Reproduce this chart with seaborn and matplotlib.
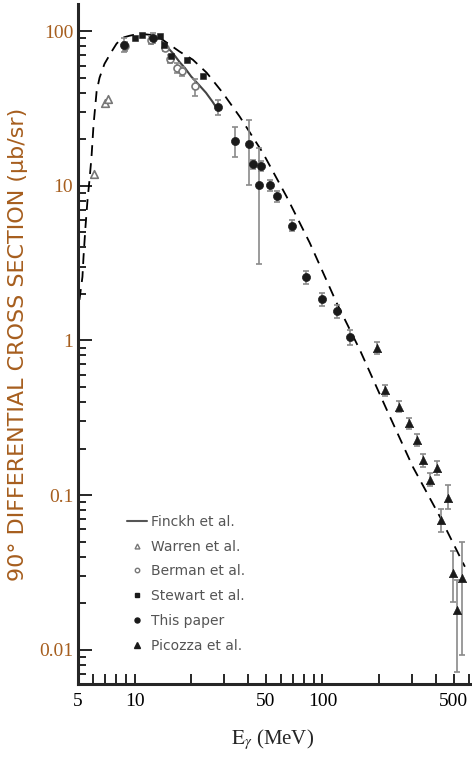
import numpy as np
import pandas as pd
import matplotlib
matplotlib.use("Agg")
import matplotlib.pyplot as plt
import matplotlib.ticker as ticker
from matplotlib.lines import Line2D
import seaborn as sns

# theory curve (dashed)
theory_E = [5.09, 5.28, 5.35, 5.48, 5.62, 5.76, 5.90, 6.05, 6.28, 6.51, 6.92, 7.54, 8.02,
            8.63, 9.41, 10.6, 12.0, 13.6, 15.4, 17.4, 20.4, 24.2, 29.4, 36.3, 48.1, 64.5,
            85.5, 119, 158, 220, 303, 422, 573]
theory_xs = [1.83, 2.58, 3.48, 5.44, 8.13, 11.0, 15.4, 24.9, 40.7, 50.0, 61.6, 73.7, 83.1,
             90.8, 93.5, 96.4, 94.9, 90.8, 81.8, 73.7, 65.5, 53.9, 40.1, 28.0, 16.4, 8.50,
             4.29, 1.75, 0.871, 0.356, 0.152, 0.0724, 0.0344]

# Finckh et al. (solid)
finckh_E = [14.0, 16.0, 17.4, 18.5, 20.0, 22.0, 24.0, 26.0, 27.5]
finckh_xs = [86, 72, 63, 58, 51, 45, 40, 35, 31.5]

# Warren et al. (open triangles)
warren_E = [6.1, 7.0, 7.2]
warren_xs = [12.0, 34.5, 36.5]

# Berman et al. (open circles)
berman_E = [8.9, 12.2, 14.5, 15.5, 16.8, 17.8, 20.9]
berman_xs = [80, 88, 78, 66, 58, 55, 44]
berman_lo = [5, 5, 4, 4, 4, 4, 6]
berman_hi = [5, 5, 4, 4, 4, 4, 5.4]

# Stewart et al. (filled squares)
stewart_E = [10.1, 10.9, 13.6, 14.4, 15.7, 18.9, 23.1]
stewart_xs = [91, 95, 93.5, 82, 69, 65.5, 51]

# This paper (filled circles)
paper_E = [8.84, 12.6, 27.8, 34.1, 40.6, 42.7, 47.3, 45.9, 52.4, 57.3, 69.2, 82.2, 100, 120, 140]
paper_xs = [82, 90, 32.4, 19.4, 18.6, 13.8, 13.4, 10.2, 10.1, 8.54, 5.52, 2.57, 1.86, 1.54, 1.05]
paper_lo = [9, 6, 3.6, 4.0, 8.4, 1.0, 1.0, 7.1, 0.8, 0.7, 0.45, 0.25, 0.18, 0.15, 0.12]
paper_hi = [9, 8, 3.6, 4.7, 8.2, 1.0, 1.0, 7.4, 0.8, 0.7, 0.45, 0.25, 0.18, 0.15, 0.12]

# Picozza et al. (filled triangles)
picozza_E = [194, 215, 255, 289, 319, 344, 373, 405, 430, 467, 497, 522, 550]
picozza_xs = [0.90, 0.475, 0.374, 0.292, 0.228, 0.169, 0.126, 0.150, 0.069, 0.0957, 0.0313, 0.0181, 0.0290]
picozza_lo = [0.08, 0.04, 0.03, 0.025, 0.02, 0.016, 0.012, 0.015, 0.011, 0.015, 0.011, 0.0109, 0.0197]
picozza_hi = [0.08, 0.04, 0.03, 0.025, 0.02, 0.016, 0.012, 0.015, 0.012, 0.021, 0.012, 0.0102, 0.021]

x_ticks = [5, 10, 50, 100, 500]
y_ticks = [0.01, 0.1, 1, 10, 100]
y_tick_labels = ["0.01", "0.1", "1", "10", "100"]

sns.set_style("ticks")
plt.rcParams['font.family'] = ['DejaVu Sans']
plt.rcParams['mathtext.fontset'] = 'stix'

lab_col = '#a65e1e'
pt_col = '#1a1a1a'
bar_col = '#8a8a8a'

fig = plt.figure(figsize=(4.72, 7.6), dpi=100)
ax = fig.add_axes([78 / 472, 76 / 760, 392 / 472, 680 / 760])

theory = pd.DataFrame({'E': theory_E, 'xs': theory_xs})
sns.lineplot(data=theory, x='E', y='xs', ax=ax, color='black', lw=1.3,
             dashes=False, linestyle=(0, (6, 4)), sort=False)
finckh = pd.DataFrame({'E': finckh_E, 'xs': finckh_xs})
sns.lineplot(data=finckh, x='E', y='xs', ax=ax, color='#444444', lw=1.5, sort=False)

# error bars
for E, v, lo, hi in [(berman_E, berman_xs, berman_lo, berman_hi),
                     (paper_E, paper_xs, paper_lo, paper_hi),
                     (picozza_E, picozza_xs, picozza_lo, picozza_hi)]:
    ax.errorbar(E, v, yerr=[lo, hi], fmt='none', ecolor=bar_col, elinewidth=1.2,
                capsize=2.5, capthick=1.2, zorder=2)

sns.scatterplot(x=warren_E, y=warren_xs, ax=ax, marker='^', s=30, facecolor='white',
                edgecolor='#777777', linewidth=1.2, zorder=3)
sns.scatterplot(x=berman_E, y=berman_xs, ax=ax, marker='o', s=25, facecolor='white',
                edgecolor='#777777', linewidth=1.2, zorder=3)
sns.scatterplot(x=stewart_E, y=stewart_xs, ax=ax, marker='s', s=22, color=pt_col,
                edgecolor=pt_col, zorder=4)
sns.scatterplot(x=paper_E, y=paper_xs, ax=ax, marker='o', s=34, color=pt_col,
                edgecolor=pt_col, zorder=4)
sns.scatterplot(x=picozza_E, y=picozza_xs, ax=ax, marker='^', s=36, color=pt_col,
                edgecolor=pt_col, zorder=4)

ax.set_xscale('log')
ax.set_yscale('log')
ax.set_xlim(5, 610)
ax.set_ylim(0.006, 150)

ax.xaxis.set_major_locator(ticker.FixedLocator(x_ticks))
ax.xaxis.set_major_formatter(ticker.FixedFormatter([str(t) for t in x_ticks]))
ax.xaxis.set_minor_locator(ticker.LogLocator(base=10, subs=(2, 3, 4, 6, 7, 8, 9), numticks=20))
ax.xaxis.set_minor_formatter(ticker.NullFormatter())
ax.yaxis.set_major_locator(ticker.FixedLocator(y_ticks))
ax.yaxis.set_major_formatter(ticker.FixedFormatter(y_tick_labels))
ax.yaxis.set_minor_locator(ticker.LogLocator(base=10, subs=np.arange(2, 10), numticks=20))
ax.yaxis.set_minor_formatter(ticker.NullFormatter())

ax.tick_params(axis='x', which='both', direction='in', length=7, width=1.4, pad=6.5,
               labelsize=14, labelcolor='black')
ax.tick_params(axis='y', which='major', direction='in', length=10, width=1.4, pad=3.5,
               labelsize=14, labelcolor=lab_col)
ax.tick_params(axis='y', which='minor', direction='in', length=6, width=1.4)
for lab in ax.get_xticklabels() + ax.get_yticklabels():
    lab.set_family('Liberation Serif')

sns.despine(ax=ax)
for s in ['left', 'bottom']:
    ax.spines[s].set_linewidth(2.2)

ax.set_ylabel('90° DIFFERENTIAL CROSS SECTION (μb/sr)', fontsize=16, color=lab_col,
              family='DejaVu Sans')
ax.yaxis.set_label_coords(-0.128, 0.5)
ax.set_xlabel(r'$\mathrm{E}_{\gamma}$ (MeV)', fontsize=15, family='Liberation Serif')
ax.xaxis.set_label_coords(0.495, -0.064)

handles = [
    Line2D([], [], color='#555555', lw=1.5),
    Line2D([], [], ls='none', marker='^', ms=3.5, mfc='white', mec='#777777', mew=1),
    Line2D([], [], ls='none', marker='o', ms=3.2, mfc='white', mec='#777777', mew=1),
    Line2D([], [], ls='none', marker='s', ms=3.2, color=pt_col),
    Line2D([], [], ls='none', marker='o', ms=3.6, color=pt_col),
    Line2D([], [], ls='none', marker='^', ms=3.8, color=pt_col),
]
labels = ['Finckh et al.', 'Warren et al.', 'Berman et al.', 'Stewart et al.',
          'This paper', 'Picozza et al.']
leg = ax.legend(handles, labels, loc='upper left', bbox_to_anchor=(0.125, 0.249),
                frameon=False, fontsize=10, handlelength=1.45, handletextpad=0.25,
                labelspacing=0.78, borderpad=0, borderaxespad=0)
for t in leg.get_texts():
    t.set_color('#555555')

fig.savefig('out.png', dpi=100)
